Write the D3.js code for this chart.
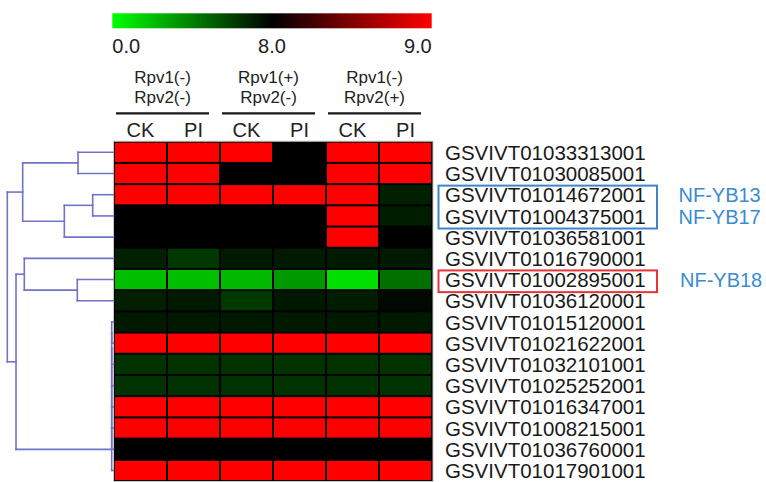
<!DOCTYPE html>
<html>
<head>
<meta charset="utf-8">
<script src="https://cdn.jsdelivr.net/npm/d3@7/dist/d3.min.js"></script>
<style>
  html, body { margin: 0; padding: 0; background: #fff; }
  svg { display: block; font-family: "Liberation Sans", Arial, sans-serif; }
</style>
</head>
<body>
<svg id="chart" width="766" height="482"></svg>
<script>
// Expression (log2) per gene and condition
const genes = [
  "GSVIVT01033313001", "GSVIVT01030085001", "GSVIVT01014672001", "GSVIVT01004375001",
  "GSVIVT01036581001", "GSVIVT01016790001", "GSVIVT01002895001", "GSVIVT01036120001",
  "GSVIVT01015120001", "GSVIVT01021622001", "GSVIVT01032101001", "GSVIVT01025252001",
  "GSVIVT01016347001", "GSVIVT01008215001", "GSVIVT01036760001", "GSVIVT01017901001"
];
const samples = ["CK", "PI", "CK", "PI", "CK", "PI"];
const groupLine1 = ["Rpv1(-)", "Rpv1(+)", "Rpv1(-)"];
const groupLine2 = ["Rpv2(-)", "Rpv2(-)", "Rpv2(+)"];

const values = [
  [9.0, 9.0, 9.0, 8.0, 9.0, 9.0],
  [9.0, 9.0, 8.0, 8.0, 9.0, 9.0],
  [9.0, 9.0, 9.0, 9.0, 9.0, 7.0],
  [8.0, 8.0, 8.0, 8.0, 9.0, 7.1],
  [8.0, 8.0, 8.0, 8.0, 9.0, 8.0],
  [7.0, 6.2, 7.2, 7.2, 7.2, 7.2],
  [2.0, 2.0, 2.2, 3.2, 1.0, 4.5],
  [7.0, 7.2, 6.2, 7.25, 7.1, 7.75],
  [7.2, 7.2, 7.2, 7.2, 7.2, 7.2],
  [9.0, 9.0, 9.0, 9.0, 9.0, 9.0],
  [6.4, 6.4, 6.4, 6.4, 6.4, 6.4],
  [6.4, 6.4, 6.4, 6.4, 6.4, 6.4],
  [9.0, 9.0, 9.0, 9.0, 9.0, 9.0],
  [9.0, 9.0, 9.0, 9.0, 9.0, 9.0],
  [8.0, 8.0, 8.0, 8.0, 8.0, 8.0],
  [9.0, 9.0, 9.0, 9.0, 9.0, 9.0]
];

// Colour key
const legendStops = [0, 8, 9];
const legendColors = ["#00ff00", "#000000", "#ff0000"];
const legendLabels = ["0.0", "8.0", "9.0"];

// Hierarchical clustering of rows (hclust style: negative = leaf row, positive = earlier merge)
const merges = [
  [-1, -2], [-3, -4], [2, -5], [1, 3],
  [-7, -8], [-6, 5],
  [-9, -10], [7, -11], [8, -12], [9, -13], [10, -14], [11, -15], [12, -16],
  [6, 13], [4, 14]
];
const mergeHeights = [0.334, 0.196, 0.463, 0.855, 0.341, 0.840,
  0.017, 0.017, 0.017, 0.017, 0.017, 0.017, 0.017, 0.918, 1.0];

// Highlighted NF-YB members
const highlightBoxes = [
  { from: 2, to: 3, color: "#3d85c6" },
  { from: 6, to: 6, color: "#e8323a" }
];
const nfLabels = [
  { row: 2, text: "NF-YB13" },
  { row: 3, text: "NF-YB17" },
  { row: 6, text: "NF-YB18" }
];

const svg = d3.select("#chart");

const hmLeft = 114, hmRight = 432, hmTop = 141.7, hmBottom = 481;
const x = d3.scaleBand().domain(d3.range(samples.length)).range([hmLeft, hmRight]);
const y = d3.scaleBand().domain(d3.range(genes.length)).range([hmTop, hmBottom]);
const color = d3.scaleLinear().domain(legendStops).range(legendColors).clamp(true);

// ---- colour key ----
const keyX = d3.scaleLinear().domain(legendStops).range([112.3, 272, 431.7]);
const defs = svg.append("defs");
const grad = defs.append("linearGradient").attr("id", "keyGrad")
  .attr("x1", "0%").attr("x2", "100%").attr("y1", "0%").attr("y2", "0%");
const keyW = keyX(9) - keyX(0);
d3.range(0, 9.01, 0.25).forEach(v => {
  grad.append("stop")
    .attr("offset", ((keyX(v) - keyX(0)) / keyW * 100) + "%")
    .attr("stop-color", color(v));
});
svg.append("rect")
  .attr("x", keyX(0)).attr("y", 13.3)
  .attr("width", keyW).attr("height", 15)
  .attr("fill", "url(#keyGrad)");
svg.selectAll("text.key").data(legendLabels).join("text")
  .attr("class", "key")
  .attr("x", (d, i) => keyX(legendStops[i]))
  .attr("y", 53.3)
  .attr("text-anchor", (d, i) => i === 0 ? "start" : (i === legendLabels.length - 1 ? "end" : "middle"))
  .attr("font-size", 20)
  .attr("fill", "#222")
  .text(d => d);

// ---- group headers ----
const groupIdx = d3.range(groupLine1.length);
const gStart = i => x(i * 2);
const gEnd = i => x(i * 2 + 1) + x.bandwidth();
const gLineL = i => gStart(i) + 2;
const gLineR = i => gEnd(i) - 11;
const gMid = i => (gLineL(i) + gLineR(i)) / 2;

svg.selectAll("text.g1").data(groupIdx).join("text")
  .attr("class", "g1")
  .attr("x", gMid).attr("y", 83.3)
  .attr("text-anchor", "middle").attr("font-size", 17).attr("fill", "#222")
  .text(i => groupLine1[i]);
svg.selectAll("text.g2").data(groupIdx).join("text")
  .attr("class", "g2")
  .attr("x", gMid).attr("y", 103.3)
  .attr("text-anchor", "middle").attr("font-size", 17).attr("fill", "#222")
  .text(i => groupLine2[i]);
svg.selectAll("line.g").data(groupIdx).join("line")
  .attr("class", "g")
  .attr("x1", gLineL).attr("x2", gLineR)
  .attr("y1", 113.3).attr("y2", 113.3)
  .attr("stroke", "#1a1a1a").attr("stroke-width", 2.2);

// sample labels
svg.selectAll("text.s").data(samples).join("text")
  .attr("class", "s")
  .attr("x", (d, i) => x(i) + x.bandwidth() / 2)
  .attr("y", 136.7)
  .attr("text-anchor", "middle").attr("font-size", 20).attr("fill", "#222")
  .text(d => d);

// ---- heatmap ----
svg.append("rect")
  .attr("x", hmLeft - 0.5).attr("y", hmTop - 0.5)
  .attr("width", hmRight - hmLeft + 1.5).attr("height", hmBottom - hmTop + 1)
  .attr("fill", "#000").attr("stroke", "#c8c8c8").attr("stroke-width", 1);

const cells = [];
values.forEach((row, r) => row.forEach((v, c) => cells.push({ r, c, v })));
svg.append("g").selectAll("rect").data(cells).join("rect")
  .attr("x", d => x(d.c) + 1)
  .attr("y", d => y(d.r) + 1)
  .attr("width", x.bandwidth() - 2)
  .attr("height", y.bandwidth() - 2)
  .attr("fill", d => color(d.v));

// ---- row labels ----
const labelX = 445;
svg.selectAll("text.gene").data(genes).join("text")
  .attr("class", "gene")
  .attr("x", labelX)
  .attr("y", (d, i) => y(i) + y.bandwidth() / 2 + 7.6)
  .attr("font-size", 20.5).attr("fill", "#1a1a1a")
  .text(d => d);

svg.selectAll("rect.hl").data(highlightBoxes).join("rect")
  .attr("class", "hl")
  .attr("x", labelX - 6.5)
  .attr("y", d => y(d.from) + 1.5)
  .attr("width", 218.5)
  .attr("height", d => y(d.to) + y.bandwidth() - y(d.from) + 0.5)
  .attr("fill", "none").attr("stroke", d => d.color).attr("stroke-width", 2);

svg.selectAll("text.nf").data(nfLabels).join("text")
  .attr("class", "nf")
  .attr("x", d => d.row === 6 ? 680 : 678.5)
  .attr("y", d => y(d.row) + y.bandwidth() / 2 + 7.6)
  .attr("font-size", 20).attr("fill", "#3a8bd0")
  .text(d => d.text);

// ---- dendrogram ----
const hx = d3.scaleLinear().domain([0, 1]).range([113.5, 7.3]);
const nodes = [];  // computed position of each merge
const pos = id => id < 0
  ? { x: hx(0), y: y(-id - 1) + y.bandwidth() / 2 }
  : nodes[id - 1];
const segs = [];
merges.forEach((m, i) => {
  const a = pos(m[0]), b = pos(m[1]);
  const nx = hx(mergeHeights[i]);
  segs.push([nx, a.y, nx, b.y]);
  segs.push([nx, a.y, a.x, a.y]);
  segs.push([nx, b.y, b.x, b.y]);
  nodes.push({ x: nx, y: (a.y + b.y) / 2 });
});
svg.append("g").selectAll("line").data(segs).join("line")
  .attr("x1", d => d[0]).attr("y1", d => d[1])
  .attr("x2", d => d[2]).attr("y2", d => d[3])
  .attr("stroke", "#7272c6").attr("stroke-width", 1.6)
  .attr("stroke-linecap", "square");
</script>
</body>
</html>
